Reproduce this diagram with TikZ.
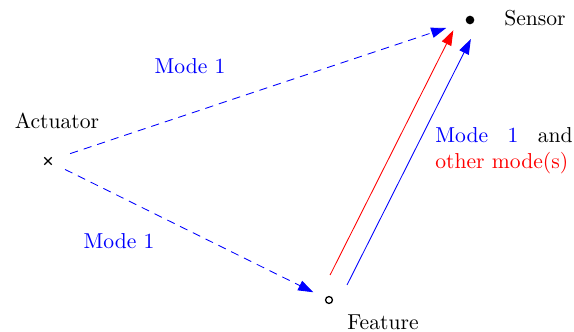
\documentclass[tikz,border=0pt]{standalone}
\usetikzlibrary{arrows.meta,shapes.misc}

\tikzset{
  modetip/.style={-{Triangle[length=7pt,width=4.8pt]}},
  modedash/.style={dash pattern=on 3.8pt off 2.8pt},
}

\begin{document}
\begin{tikzpicture}[x=0.75pt,y=0.75pt,yscale=-0.6173,xscale=0.6173]
%set diagram to the size of the reference
\useasboundingbox (0,0) rectangle (574,332);

%Markers
\node [draw,cross out,minimum size=2.8pt,inner sep=0pt,line width=0.6pt] (actuator) at (48,161) {};
\node [fill,circle,minimum size=4pt,inner sep=0pt] (sensor) at (470,20) {};
\node [draw,circle,minimum size=3.2pt,inner sep=0pt,line width=0.6pt] (feature) at (329,300) {};

% Text Node
\node (actlabel) at (57,121) {Actuator};
% Text Node
\node (senslabel) at (535,18) {Sensor};
% Text Node
\node (featlabel) at (383,322) {Feature};
% Text Node
\node [blue] (upmode) at (190,66) {Mode 1};
% Text Node
\node [blue] (lowmode) at (119,241) {Mode 1};
% Text Node
\node [anchor=north west,inner sep=0pt,text width=63.5pt,align=justify] (mixmode) at (435,127)
  {\textcolor{blue}{Mode 1} and \textcolor{red}{other mode(s)}};

%Dashed arrows from the actuator
\draw [blue,modedash,modetip,shorten <=10.8pt,shorten >=11.6pt] (actuator.center) -- (sensor.center);
\draw [blue,modedash,modetip,shorten <=8.8pt,shorten >=8.1pt] (actuator.center) -- (feature.center);

%Solid arrows from the feature
\draw [red,modetip,shorten <=10.6pt,shorten >=7.7pt] ([shift={(-9.2,-4.6)}]feature.center) -- ([shift={(-9.2,-4.6)}]sensor.center);
\draw [blue,modetip,shorten <=10pt,shorten >=7.7pt] ([shift={(8.3,4.2)}]feature.center) -- ([shift={(8.3,4.2)}]sensor.center);
\end{tikzpicture}
\end{document}
